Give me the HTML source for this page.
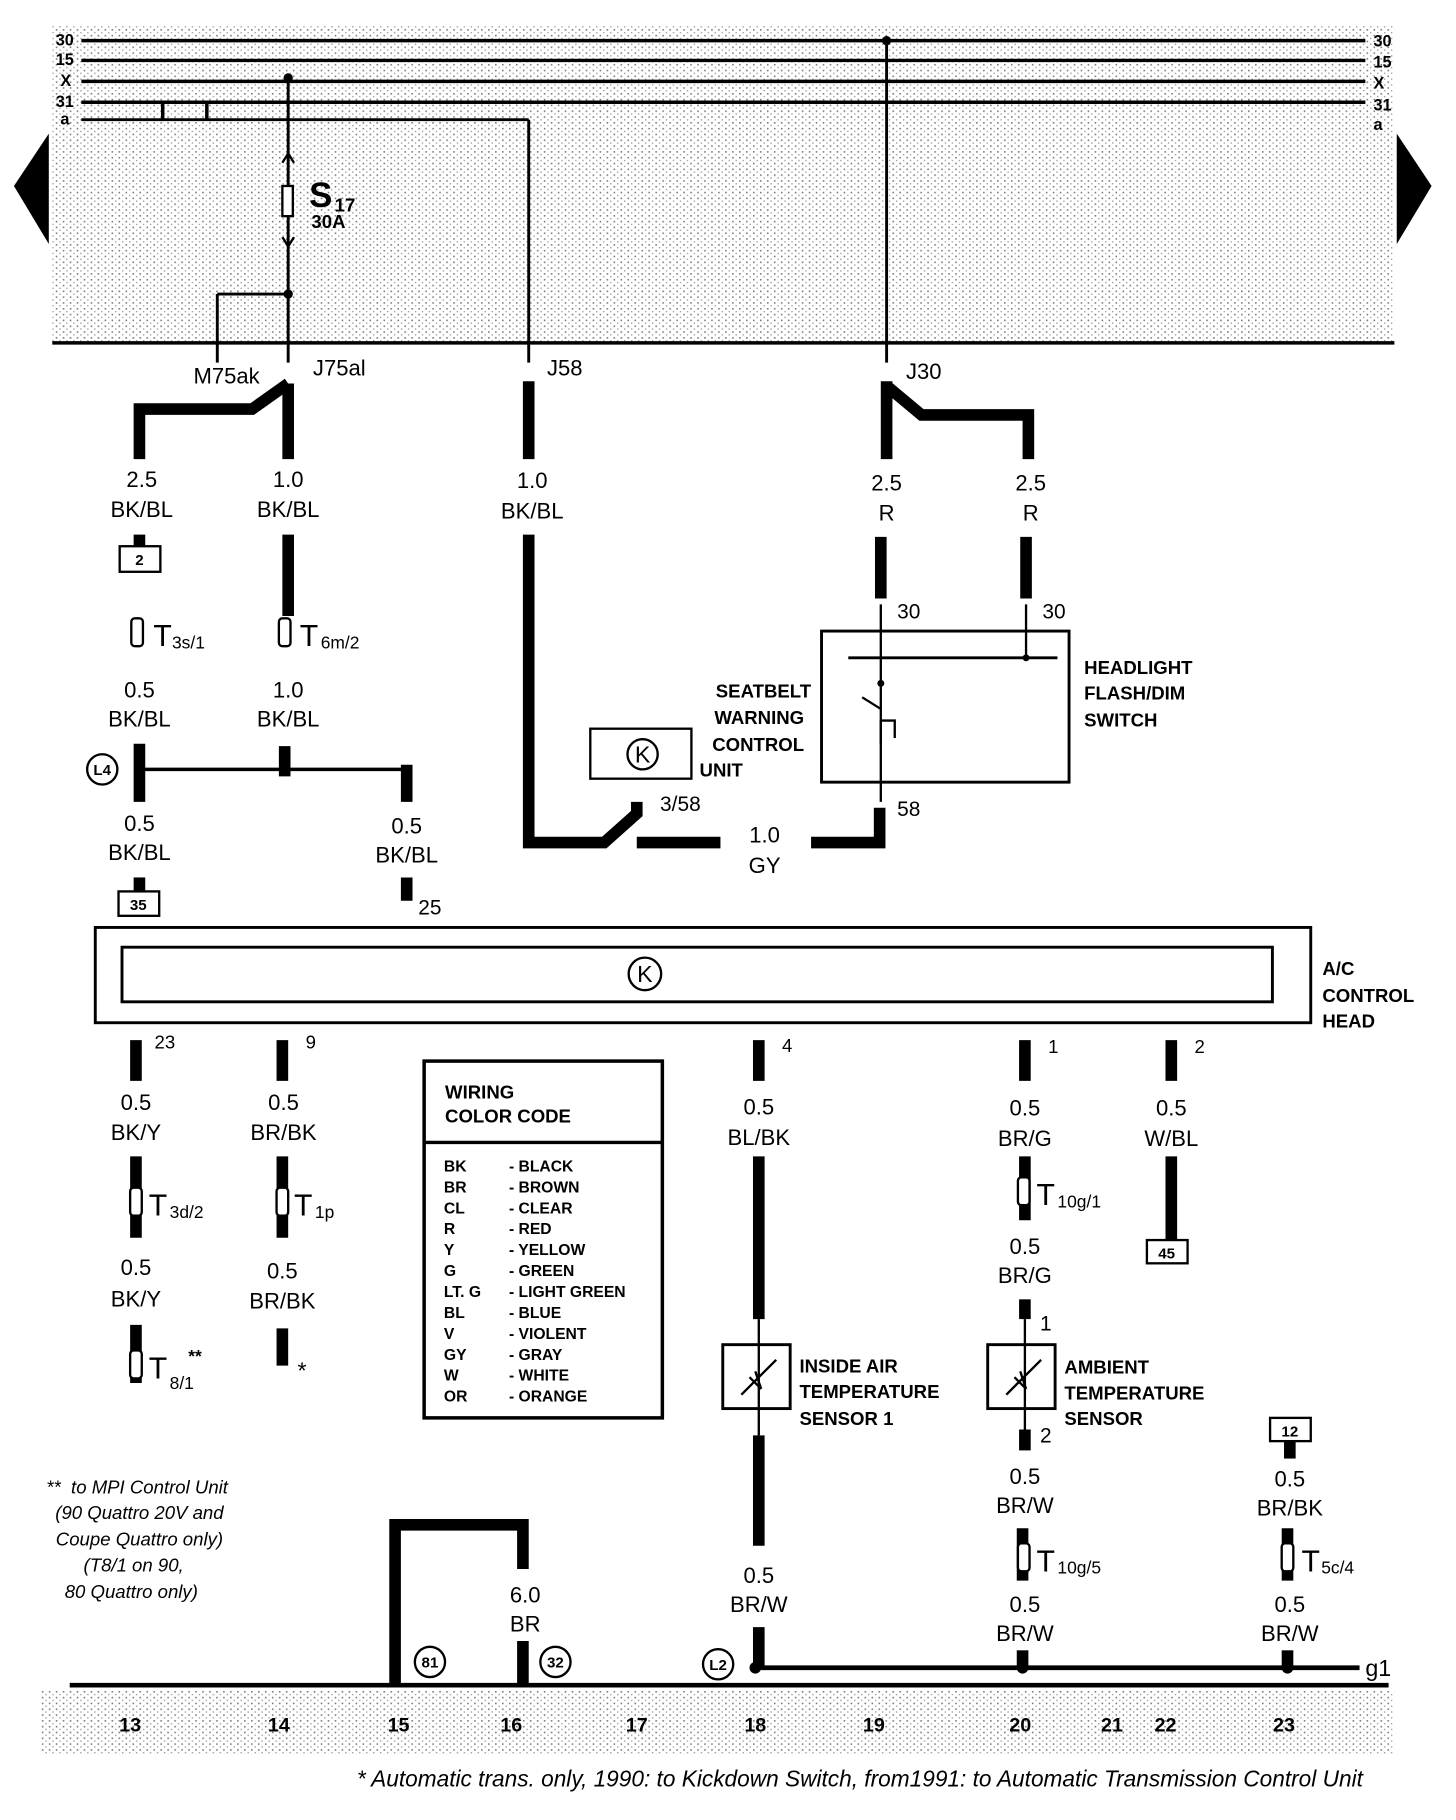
<!DOCTYPE html>
<html><head><meta charset="utf-8"><style>
html,body{margin:0;padding:0;background:#fff}
svg{display:block}
text{font-family:"Liberation Sans",sans-serif;fill:#000}
.b{font-weight:bold;font-size:19px}
.c{font-weight:bold;font-size:16px}
.s{font-size:14px;font-weight:bold}
.i{font-style:italic;font-size:16px}
</style></head><body>
<svg width="1456" height="1820" viewBox="0 0 1253 1566" preserveAspectRatio="none" xmlns="http://www.w3.org/2000/svg">
<defs>
<pattern id="st" width="6" height="5" patternUnits="userSpaceOnUse">
<rect x="0" y="0" width="1.4" height="1.4" fill="#000"/><rect x="3" y="2.5" width="1.2" height="1.2" fill="#444"/>
</pattern>
</defs>
<rect x="45" y="22" width="1155" height="272" fill="url(#st)" opacity="0.5"/>
<rect x="35" y="1455" width="1165" height="55" fill="url(#st)" opacity="0.5"/>
<g stroke="#000" fill="none">
<line x1="70" y1="35" x2="1175" y2="35" stroke-width="3"/>
<line x1="70" y1="52" x2="1175" y2="52" stroke-width="3"/>
<line x1="70" y1="70" x2="1175" y2="70" stroke-width="3"/>
<line x1="70" y1="88" x2="1175" y2="88" stroke-width="3"/>
<line x1="70" y1="103" x2="455" y2="103" stroke-width="2.5"/>
<line x1="140" y1="88" x2="140" y2="103" stroke-width="3"/>
<line x1="178" y1="88" x2="178" y2="103" stroke-width="3"/>
<line x1="45" y1="295" x2="1200" y2="295" stroke-width="3"/>
<line x1="248" y1="67" x2="248" y2="312" stroke-width="2.5"/>
<line x1="248" y1="253" x2="187" y2="253" stroke-width="2.5"/>
<line x1="187" y1="253" x2="187" y2="312" stroke-width="2.5"/>
<line x1="455" y1="103" x2="455" y2="312" stroke-width="2.5"/>
<line x1="763" y1="35" x2="763" y2="312" stroke-width="2.5"/>
<rect x="243" y="160" width="9" height="26" stroke-width="2" fill="#fff"/>
<path d="M243 140 L248 132 L253 140 M243 204 L248 212 L253 204" stroke-width="2"/>
<g stroke-width="10" stroke-linejoin="miter">
<polyline points="248,330 248,395"/>
<polyline points="248,330 217,352 120,352 120,395"/>
<polyline points="455,328 455,395"/>
<polyline points="763,328 763,395"/>
<polyline points="763,332 793,357 885,357 885,395"/>
<polyline points="248,460 248,530"/>
<polyline points="120,460 120,470"/>
<polyline points="120,640 120,690"/>
<polyline points="245,642 245,668"/>
<polyline points="350,658 350,690"/>
<polyline points="120,755 120,767"/>
<polyline points="350,755 350,775"/>
<polyline points="455,460 455,725 520,725 548,700 548,690"/>
<polyline points="548,725 620,725"/>
<polyline points="698,725 757,725 757,695"/>
<polyline points="758,462 758,515"/>
<polyline points="883,462 883,515"/>
<polyline points="117,895 117,930"/>
<polyline points="243,895 243,930"/>
<polyline points="653,895 653,930"/>
<polyline points="882,895 882,930"/>
<polyline points="1008,895 1008,930"/>
<polyline points="117,995 117,1065"/>
<polyline points="243,995 243,1065"/>
<polyline points="653,995 653,1135"/>
<polyline points="882,995 882,1050"/>
<polyline points="1008,995 1008,1067"/>
<polyline points="117,1140 117,1190"/>
<polyline points="243,1143 243,1175"/>
<polyline points="882,1118 882,1135"/>
<polyline points="882,1230 882,1248"/>
<polyline points="653,1235 653,1330"/>
<polyline points="653,1400 653,1435"/>
<polyline points="880,1315 880,1360"/>
<polyline points="1108,1315 1108,1360"/>
<polyline points="1110,1240 1110,1255"/>
<polyline points="880,1420 880,1437"/>
<polyline points="1108,1420 1108,1437"/>
<polyline points="340,1450 340,1312 450,1312 450,1350"/>
<polyline points="450,1412 450,1450"/>
</g>
<line x1="120" y1="662" x2="350" y2="662" stroke-width="3"/>
<line x1="650" y1="1435" x2="1170" y2="1435" stroke-width="4"/>
<line x1="60" y1="1450" x2="1195" y2="1450" stroke-width="4"/>
<rect x="103" y="470" width="35" height="22" stroke-width="2"/>
<rect x="102" y="767" width="35" height="21" stroke-width="2"/>
<rect x="987" y="1067" width="35" height="20" stroke-width="2"/>
<rect x="1093" y="1220" width="35" height="20" stroke-width="2"/>
<rect x="82" y="798" width="1046" height="82" stroke-width="2.5"/>
<rect x="105" y="815" width="990" height="47" stroke-width="2.5"/>
<circle cx="555" cy="838" r="14" stroke-width="2"/>
<rect x="508" y="627" width="87" height="43" stroke-width="2"/>
<circle cx="553" cy="649" r="13" stroke-width="2"/>
<rect x="707" y="543" width="213" height="130" stroke-width="2.5"/>
<line x1="730" y1="566" x2="910" y2="566" stroke-width="2.5"/>
<line x1="758" y1="520" x2="758" y2="690" stroke-width="2"/>
<line x1="883" y1="520" x2="883" y2="566" stroke-width="2"/>
<path d="M742 600 L758 610 M758 620 L770 620 L770 635 M758 620 L758 640" stroke-width="2"/>
<rect x="365" y="913" width="205" height="307" stroke-width="3"/>
<line x1="365" y1="983" x2="570" y2="983" stroke-width="3"/>
<rect x="622" y="1157" width="58" height="55" stroke-width="2.5"/>
<rect x="850" y="1157" width="58" height="55" stroke-width="2.5"/>
<line x1="653" y1="1135" x2="653" y2="1235" stroke-width="2"/>
<line x1="882" y1="1135" x2="882" y2="1230" stroke-width="2"/>
<path d="M638 1200 L668 1170 M645 1185 L655 1195 L650 1180" stroke-width="2"/>
<path d="M866 1200 L896 1170 M873 1185 L883 1195 L878 1180" stroke-width="2"/>
<circle cx="88" cy="662" r="13" stroke-width="2"/>
<circle cx="370" cy="1430" r="13" stroke-width="2"/>
<circle cx="478" cy="1430" r="13" stroke-width="2"/>
<circle cx="618" cy="1432" r="13" stroke-width="2"/>
<g stroke-width="2" fill="#fff">
<rect x="113" y="532" width="10" height="24" rx="3"/><rect x="240" y="532" width="10" height="24" rx="3"/>
<rect x="112" y="1022" width="10" height="24" rx="3"/><rect x="238" y="1022" width="10" height="24" rx="3"/>
<rect x="876" y="1013" width="10" height="24" rx="3"/><rect x="112" y="1162" width="10" height="24" rx="3"/>
<rect x="876" y="1328" width="10" height="24" rx="3"/><rect x="1103" y="1328" width="10" height="24" rx="3"/>
</g>
</g>
<g fill="#000">
<circle cx="248" cy="67" r="4"/><circle cx="763" cy="35" r="4"/><circle cx="248" cy="253" r="4"/>
<circle cx="245" cy="662" r="5"/><circle cx="650" cy="1435" r="5"/><circle cx="880" cy="1435" r="5"/><circle cx="1108" cy="1435" r="5"/>
<circle cx="758" cy="588" r="3"/><circle cx="883" cy="566" r="3"/>
<polygon points="12,160 42,115 42,210"/><polygon points="1232,160 1202,115 1202,210"/>
</g>
<g style="font-size:20px" text-anchor="middle">
<text x="555" y="845">K</text><text x="553" y="656">K</text>
</g>
<g class="s">
<text x="48" y="39" class="s">30</text><text x="48" y="56" class="s">15</text><text x="52" y="74" class="s">X</text><text x="48" y="92" class="s">31</text><text x="52" y="107" class="s">a</text>
<text x="1182" y="40" class="s">30</text><text x="1182" y="58" class="s">15</text><text x="1182" y="76" class="s">X</text><text x="1182" y="95" class="s">31</text><text x="1182" y="112" class="s">a</text>
</g>
<text x="266" y="178" style="font-weight:bold;font-size:30px">S</text><text x="288" y="182" class="c">17</text>
<text x="268" y="196" class="c">30A</text>
<g text-anchor="middle" style="font-size:19px">
<text x="195" y="330">M75ak</text>
<text x="292" y="323">J75al</text>
<text x="486" y="323">J58</text>
<text x="795" y="326">J30</text>
<text x="122" y="419">2.5</text><text x="122" y="445">BK/BL</text>
<text x="248" y="419">1.0</text><text x="248" y="445">BK/BL</text>
<text x="458" y="420">1.0</text><text x="458" y="446">BK/BL</text>
<text x="763" y="422">2.5</text><text x="763" y="448">R</text>
<text x="887" y="422">2.5</text><text x="887" y="448">R</text>
<text x="120" y="600">0.5</text><text x="120" y="625">BK/BL</text>
<text x="248" y="600">1.0</text><text x="248" y="625">BK/BL</text>
<text x="120" y="715">0.5</text><text x="120" y="740">BK/BL</text>
<text x="350" y="717">0.5</text><text x="350" y="742">BK/BL</text>
<text x="658" y="725">1.0</text><text x="658" y="751">GY</text>
<text x="117" y="955">0.5</text><text x="117" y="981">BK/Y</text>
<text x="244" y="955">0.5</text><text x="244" y="981">BR/BK</text>
<text x="653" y="959">0.5</text><text x="653" y="985">BL/BK</text>
<text x="882" y="960">0.5</text><text x="882" y="986">BR/G</text>
<text x="1008" y="960">0.5</text><text x="1008" y="986">W/BL</text>
<text x="117" y="1097">0.5</text><text x="117" y="1124">BK/Y</text>
<text x="243" y="1100">0.5</text><text x="243" y="1126">BR/BK</text>
<text x="882" y="1079">0.5</text><text x="882" y="1104">BR/G</text>
<text x="882" y="1277">0.5</text><text x="882" y="1302">BR/W</text>
<text x="882" y="1387">0.5</text><text x="882" y="1412">BR/W</text>
<text x="1110" y="1279">0.5</text><text x="1110" y="1304">BR/BK</text>
<text x="1110" y="1387">0.5</text><text x="1110" y="1412">BR/W</text>
<text x="653" y="1362">0.5</text><text x="653" y="1387">BR/W</text>
<text x="452" y="1379">6.0</text><text x="452" y="1404">BR</text>
</g>
<g style="font-size:13px;font-weight:bold" text-anchor="middle">
<text x="120" y="486">2</text><text x="119" y="783">35</text><text x="1004" y="1083">45</text><text x="1110" y="1236">12</text>
<text x="88" y="667">L4</text><text x="370" y="1435">81</text><text x="478" y="1435">32</text><text x="618" y="1437">L2</text>
</g>
<g style="font-size:26px">
<text x="132" y="556">T</text><text x="148" y="558" style="font-size:15px">3s/1</text>
<text x="258" y="556">T</text><text x="276" y="558" style="font-size:15px">6m/2</text>
<text x="128" y="1046">T</text><text x="146" y="1048" style="font-size:15px">3d/2</text>
<text x="253" y="1046">T</text><text x="271" y="1048" style="font-size:15px">1p</text>
<text x="892" y="1037">T</text><text x="910" y="1039" style="font-size:15px">10g/1</text>
<text x="128" y="1186">T</text><text x="146" y="1195" style="font-size:15px">8/1</text><text x="162" y="1172" style="font-size:15px;font-weight:bold">**</text>
<text x="256" y="1186" style="font-size:20px">*</text>
<text x="892" y="1352">T</text><text x="910" y="1354" style="font-size:15px">10g/5</text>
<text x="1120" y="1352">T</text><text x="1137" y="1354" style="font-size:15px">5c/4</text>
</g>
<g style="font-size:18px">
<text x="772" y="532">30</text><text x="897" y="532">30</text><text x="772" y="702">58</text><text x="568" y="698">3/58</text>
<text x="360" y="787">25</text><text x="133" y="902" style="font-size:16px">23</text><text x="263" y="902" style="font-size:16px">9</text>
<text x="673" y="905" style="font-size:16px">4</text><text x="902" y="906" style="font-size:16px">1</text><text x="1028" y="906" style="font-size:16px">2</text>
<text x="895" y="1145">1</text><text x="895" y="1241">2</text>
<text x="1175" y="1442" style="font-size:20px">g1</text>
</g>
<g class="c">
<text x="698" y="600" text-anchor="end">SEATBELT</text><text x="692" y="623" text-anchor="end">WARNING</text>
<text x="692" y="646" text-anchor="end">CONTROL</text><text x="602" y="668">UNIT</text>
<text x="933" y="580">HEADLIGHT</text><text x="933" y="602">FLASH/DIM</text><text x="933" y="625">SWITCH</text>
<text x="1138" y="839">A/C</text><text x="1138" y="862">CONTROL</text><text x="1138" y="884">HEAD</text>
<text x="688" y="1181">INSIDE AIR</text><text x="688" y="1203">TEMPERATURE</text><text x="688" y="1226">SENSOR 1</text>
<text x="916" y="1182">AMBIENT</text><text x="916" y="1204">TEMPERATURE</text><text x="916" y="1226">SENSOR</text>
<text x="383" y="945">WIRING</text><text x="383" y="966">COLOR CODE</text>
</g>
<g style="font-size:13.5px;font-weight:bold">
<text x="382" y="1008">BK</text><text x="438" y="1008">- BLACK</text>
<text x="382" y="1026">BR</text><text x="438" y="1026">- BROWN</text>
<text x="382" y="1044">CL</text><text x="438" y="1044">- CLEAR</text>
<text x="382" y="1062">R</text><text x="438" y="1062">- RED</text>
<text x="382" y="1080">Y</text><text x="438" y="1080">- YELLOW</text>
<text x="382" y="1098">G</text><text x="438" y="1098">- GREEN</text>
<text x="382" y="1116">LT. G</text><text x="438" y="1116">- LIGHT GREEN</text>
<text x="382" y="1134">BL</text><text x="438" y="1134">- BLUE</text>
<text x="382" y="1152">V</text><text x="438" y="1152">- VIOLENT</text>
<text x="382" y="1170">GY</text><text x="438" y="1170">- GRAY</text>
<text x="382" y="1188">W</text><text x="438" y="1188">- WHITE</text>
<text x="382" y="1206">OR</text><text x="438" y="1206">- ORANGE</text>
</g>
<g class="i" text-anchor="middle">
<text x="118" y="1285">** &#160;to MPI Control Unit</text>
<text x="120" y="1307">(90 Quattro 20V and</text>
<text x="120" y="1330">Coupe Quattro only)</text>
<text x="115" y="1352">(T8/1 on 90,</text>
<text x="113" y="1375">80 Quattro only)</text>
<text x="740" y="1537" style="font-size:19.5px">* Automatic trans. only,  1990: to Kickdown Switch,  from1991: to Automatic Transmission Control Unit</text>
</g>
<g style="font-size:17px;font-weight:bold" text-anchor="middle">
<text x="112" y="1490">13</text><text x="240" y="1490">14</text><text x="343" y="1490">15</text><text x="440" y="1490">16</text>
<text x="548" y="1490">17</text><text x="650" y="1490">18</text><text x="752" y="1490">19</text><text x="878" y="1490">20</text>
<text x="957" y="1490">21</text><text x="1003" y="1490">22</text><text x="1105" y="1490">23</text>
</g>
</svg>
</body></html>
